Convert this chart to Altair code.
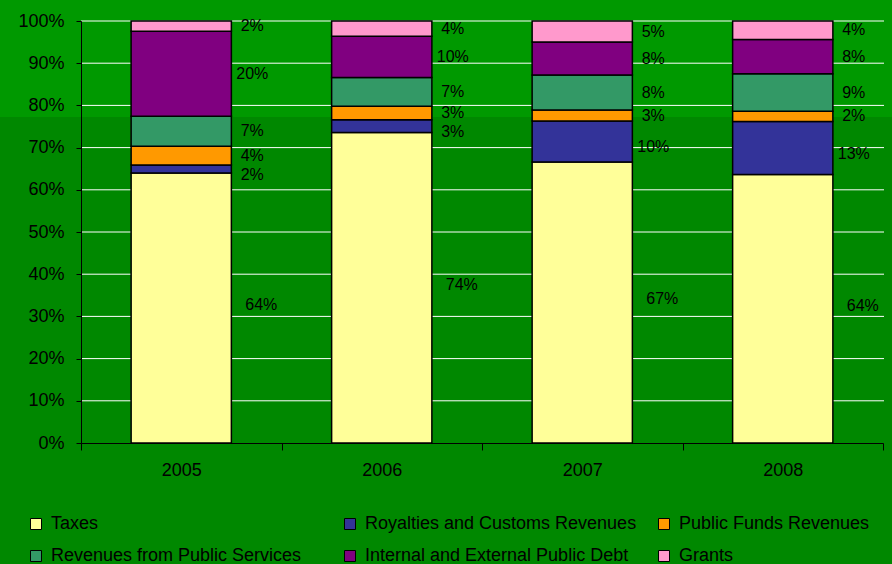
import altair as alt
import pandas as pd

years = ["2005", "2006", "2007", "2008"]
series = [
    "Taxes",
    "Royalties and Customs Revenues",
    "Public Funds Revenues",
    "Revenues from Public Services",
    "Internal and External Public Debt",
    "Grants",
]
colors = ["#FFFF99", "#333399", "#FF9900", "#339966", "#800080", "#FF99CC"]

# percent shares per year, in series order
taxes = [64.0, 73.6, 66.6, 63.6]
royalties = [1.9, 3.0, 9.7, 12.6]
public_funds = [4.4, 3.2, 2.6, 2.4]
public_services = [7.1, 6.8, 8.3, 8.9]
public_debt = [20.2, 9.8, 7.8, 8.1]
grants = [2.4, 3.6, 5.0, 4.4]

y_ticks = [0, 10, 20, 30, 40, 50, 60, 70, 80, 90, 100]

values = [taxes, royalties, public_funds, public_services, public_debt, grants]
rows = []
for si, s in enumerate(series):
    for yi, yr in enumerate(years):
        rows.append({"year": yr, "series": s, "value": values[si][yi], "order": si})
df = pd.DataFrame(rows)

W, H = 802, 422
FONT = "Liberation Sans"

yscale = alt.Scale(domain=[0, 100], nice=False, zero=True)
xscale = alt.Scale(domain=years, paddingInner=0, paddingOuter=0)

y_axis = alt.Axis(
    values=y_ticks, labelExpr="datum.value + '%'", tickSize=5,
    labelPadding=12, labelFontSize=18, labelColor="black",
    domainColor="black", tickColor="black", grid=False, labelFont=FONT,
    zindex=1)

background = alt.Chart(pd.DataFrame({"a": [0]})).mark_rect(
    color="#009900", strokeWidth=0
).encode(
    x=alt.value(-81), x2=alt.value(W + 9), y=alt.value(-21), y2=alt.value(96)
)

grid = alt.Chart(pd.DataFrame({"v": y_ticks[1:]})).mark_rule(
    color="white", strokeWidth=1
).encode(
    y=alt.Y("v:Q", scale=yscale, axis=y_axis, title=None),
    x=alt.value(0), x2=alt.value(W + 1),
)

base = alt.Chart(df).transform_stack(
    stack="value", groupby=["year"], as_=["y0", "y1"],
    sort=[alt.SortField("order", order="ascending")],
).transform_calculate(
    mid="(datum.y0 + datum.y1) / 2",
    label="format(datum.value, '.0f') + '%'",
)

bars = base.mark_bar(
    width=alt.RelativeBandSize(0.5), stroke="black", strokeWidth=1.5
).encode(
    x=alt.X("year:N", scale=xscale, title=None, axis=alt.Axis(
        labelAngle=0, tickBand="extent", tickSize=7, labelPadding=11,
        labelFontSize=18, labelColor="black", domainColor="black",
        tickColor="black", grid=False, labelFont=FONT, zindex=1)),
    y=alt.Y("y0:Q", scale=yscale, title=None, axis=y_axis),
    y2="y1:Q",
    color=alt.Color("series:N", scale=alt.Scale(domain=series, range=colors),
                    legend=alt.Legend(
                        orient="none", legendX=-54, legendY=494, columns=3,
                        direction="horizontal",
                        gridAlign="all", columnPadding=18, rowPadding=14,
                        symbolType="square", symbolSize=121,
                        symbolStrokeColor="black", symbolStrokeWidth=1,
                        symbolOpacity=1, labelFontSize=18, labelOffset=6,
                        labelColor="black", labelFont=FONT, labelLimit=0,
                        title=None, padding=0)),
    order=alt.Order("order:Q"),
)


def label_layer(cond, dx, dy):
    return base.transform_filter(cond).mark_text(
        dx=dx, dy=dy, fontSize=16, font=FONT, color="black",
        baseline="middle", align="center"
    ).encode(
        x=alt.X("year:N", scale=xscale),
        y=alt.Y("mid:Q", scale=yscale),
        text="label:N",
    )


labels_taxes = label_layer("datum.order == 0", 80, -3)
labels_roy = label_layer("datum.order == 1", 71, 6)
labels_other = label_layer("datum.order > 1", 71, 0)

chart = alt.layer(background, grid, bars, labels_taxes, labels_roy, labels_other).properties(
    width=W, height=H,
    padding={"left": 81, "top": 21, "right": 9, "bottom": 121},
    autosize=alt.AutoSizeParams(type="none"),
    background="#008800",
).configure(font=FONT).configure_view(stroke="transparent")

chart.save("out.html", embed_options={"renderer": "svg", "actions": False})
